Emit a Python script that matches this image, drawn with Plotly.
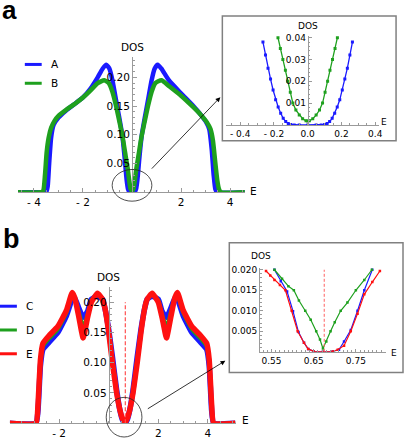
import plotly.graph_objects as go

W, H = 407, 439

BLUE = '#1a1aff'
GREEN = '#1ea01e'
RED = '#ff1010'
AXIS = '#9a9a9a'

# ---- panel a, main plot ----
A_E = [-4.65, -3.6, -3.5, -3.44, -3.38, -3.3, -3.2, -3.0, -2.7, -2.3, -2.0, -1.7, -1.4, -1.2, -1.05,
       -0.92, -0.8, -0.65, -0.5, -0.4, -0.3, -0.22, -0.16, -0.11, 0.0,
       0.11, 0.16, 0.22, 0.3, 0.4, 0.5, 0.65, 0.8, 0.92, 1.05, 1.2, 1.5, 2.0, 2.5, 2.8, 3.05, 3.15,
       3.25, 3.33, 3.4, 3.47, 4.6]
A_DOS = [0, 0, 0.0, 0.01, 0.05, 0.095, 0.117, 0.13, 0.142, 0.155, 0.165, 0.18, 0.2, 0.215, 0.222,
         0.215, 0.195, 0.16, 0.125, 0.10, 0.06, 0.022, 0.005, 0.001, 0.0,
         0.001, 0.005, 0.022, 0.06, 0.10, 0.125, 0.16, 0.195, 0.215, 0.222, 0.215, 0.195, 0.172, 0.15,
         0.135, 0.12, 0.11, 0.075, 0.03, 0.005, 0.0, 0.0]

B_E = [-4.65, -3.72, -3.62, -3.55, -3.48, -3.4, -3.3, -3.15, -3.0, -2.7, -2.3, -2.0, -1.7, -1.4, -1.13,
       -0.95, -0.8, -0.65, -0.5, -0.38, -0.26, -0.18, -0.12, -0.06, 0.0,
       0.06, 0.12, 0.18, 0.26, 0.38, 0.5, 0.65, 0.8, 0.95, 1.2, 1.5, 2.0, 2.5, 2.8, 3.05, 3.2, 3.3,
       3.4, 3.48, 3.55, 3.62, 4.6]
B_DOS = [0, 0, 0.003, 0.03, 0.07, 0.095, 0.112, 0.125, 0.133, 0.143, 0.155, 0.165, 0.177, 0.19, 0.195,
         0.19, 0.175, 0.15, 0.12, 0.095, 0.063, 0.042, 0.022, 0.006, 0.002,
         0.006, 0.022, 0.042, 0.063, 0.095, 0.12, 0.15, 0.175, 0.19, 0.195, 0.185, 0.168, 0.148, 0.135,
         0.122, 0.11, 0.09, 0.05, 0.02, 0.005, 0.0, 0.0]

# ---- panel a, inset ----
IA_E_A = [-0.265, -0.25, -0.235, -0.22, -0.205, -0.19, -0.175, -0.16, -0.145, -0.13, -0.115, -0.1,
          -0.08, -0.05, 0.0, 0.05, 0.08, 0.1, 0.115, 0.13, 0.145, 0.16, 0.175, 0.19, 0.205, 0.22,
          0.235, 0.25, 0.265]
IA_DOS_A = [0.038, 0.032, 0.026, 0.021, 0.016, 0.0115, 0.0082, 0.0053, 0.003, 0.0015, 0.0006, 0.0002,
            0.0, 0.0, 0.0, 0.0, 0.0, 0.0002, 0.0006, 0.0015, 0.003, 0.0053, 0.0082, 0.0115, 0.016,
            0.021, 0.026, 0.032, 0.038]
IA_E_B = [-0.176, -0.162, -0.147, -0.132, -0.118, -0.103, -0.088, -0.07, -0.05, -0.03, -0.01, 0.0,
          0.01, 0.03, 0.05, 0.07, 0.088, 0.103, 0.118, 0.132, 0.147, 0.162, 0.176]
IA_DOS_B = [0.04, 0.035, 0.03, 0.025, 0.02, 0.015, 0.01, 0.0068, 0.0045, 0.0028, 0.0019, 0.0018,
            0.0019, 0.0028, 0.0045, 0.0068, 0.01, 0.015, 0.02, 0.025, 0.03, 0.035, 0.04]

# ---- panel b, main plot ----
BM_E = [-4.0, -2.93, -2.85, -2.75, -2.65, -2.4, -2.05, -1.7, -1.47, -1.37, -1.2, -1.03, -0.85, -0.7,
        -0.45, -0.25, -0.15, 0.0, 0.15, 0.32, 0.45, 0.55, 0.65, 0.75, 0.85, 0.98, 1.15, 1.3, 1.45,
        1.55, 1.75, 2.0, 2.15, 2.33, 2.5, 2.67, 2.77, 3.0, 3.35, 3.7, 3.95, 4.05, 4.15, 4.23, 5.1]
C_DOS = [0, 0, 0.02, 0.095, 0.122, 0.134, 0.15, 0.178, 0.205, 0.207, 0.19, 0.175, 0.185, 0.205,
         0.21, 0.205, 0.19, 0.155, 0.11, 0.055, 0.022, 0.006, 0.0, 0.006, 0.022, 0.055, 0.11, 0.155,
         0.19, 0.205, 0.21, 0.205, 0.185, 0.175, 0.19, 0.207, 0.205, 0.178, 0.15, 0.134, 0.122,
         0.095, 0.02, 0, 0]
D_DOS = [0, 0, 0.025, 0.10, 0.127, 0.14, 0.155, 0.183, 0.211, 0.208, 0.183, 0.158, 0.18, 0.203,
         0.213, 0.205, 0.19, 0.152, 0.105, 0.052, 0.022, 0.007, 0.001, 0.007, 0.022, 0.052, 0.105,
         0.152, 0.19, 0.205, 0.213, 0.203, 0.18, 0.158, 0.183, 0.208, 0.211, 0.183, 0.155, 0.14,
         0.127, 0.10, 0.025, 0, 0]
E_DOS = [0, 0, 0.03, 0.105, 0.132, 0.145, 0.16, 0.187, 0.216, 0.208, 0.175, 0.141, 0.175, 0.20,
         0.215, 0.205, 0.19, 0.15, 0.10, 0.05, 0.022, 0.008, 0.0, 0.008, 0.022, 0.05, 0.10, 0.15,
         0.19, 0.205, 0.215, 0.20, 0.175, 0.141, 0.175, 0.208, 0.216, 0.187, 0.16, 0.145, 0.132,
         0.105, 0.03, 0, 0]
BM_MARK_E = [0.67, 0.67]
BM_MARK_DOS = [0.0, 0.2]

# ---- panel b, inset ----
IB_E_C = [0.557, 0.572, 0.587, 0.601, 0.614, 0.627, 0.637, 0.65, 0.672, 0.695, 0.71, 0.722, 0.738,
          0.754, 0.77, 0.789]
IB_DOS_C = [0.020, 0.0172, 0.0147, 0.0099, 0.0048, 0.0022, 0.0007, 0.0001, 0.0, 0.0001, 0.0005,
            0.0025, 0.0053, 0.010, 0.015, 0.020]
IB_E_D = [0.557, 0.575, 0.59, 0.603, 0.615, 0.63, 0.643, 0.656, 0.665, 0.672, 0.68, 0.69, 0.7, 0.714,
          0.73, 0.75, 0.77, 0.788]
IB_DOS_D = [0.020, 0.0178, 0.016, 0.015, 0.0125, 0.010, 0.0078, 0.005, 0.003, 0.0008, 0.0025, 0.005,
            0.0072, 0.010, 0.012, 0.015, 0.0175, 0.020]
IB_E_E = [0.537, 0.547, 0.557, 0.57, 0.583, 0.598, 0.612, 0.627, 0.637, 0.65, 0.672, 0.695, 0.707,
          0.722, 0.738, 0.754, 0.77, 0.789, 0.807]
IB_DOS_E = [0.0197, 0.0186, 0.0175, 0.0163, 0.015, 0.010, 0.005, 0.0022, 0.0007, 0.0001, 0.0, 0.0001,
            0.0005, 0.0015, 0.005, 0.0093, 0.014, 0.017, 0.0197]
IB_MARK_E = [0.675, 0.675]
IB_MARK_DOS = [0.0, 0.02]


def px(x):
    return x / W


def py(y):
    return 1 - y / H


fig = go.Figure()

# panel a main
fig.add_trace(go.Scatter(x=A_E, y=A_DOS, name='A', mode='lines',
                         line=dict(color=BLUE, width=4.5, shape='spline', smoothing=0.5),
                         xaxis='x', yaxis='y'))
fig.add_trace(go.Scatter(x=B_E, y=B_DOS, name='B', mode='lines',
                         line=dict(color=GREEN, width=4.5, shape='spline', smoothing=0.5),
                         xaxis='x', yaxis='y'))
# panel a inset
fig.add_trace(go.Scatter(x=IA_E_A, y=IA_DOS_A, mode='lines+markers',
                         line=dict(color=BLUE, width=1.3), marker=dict(size=3, symbol='square'),
                         xaxis='x2', yaxis='y2'))
fig.add_trace(go.Scatter(x=IA_E_B, y=IA_DOS_B, mode='lines+markers',
                         line=dict(color=GREEN, width=1.3), marker=dict(size=3, symbol='square'),
                         xaxis='x2', yaxis='y2'))
# panel b main
for name, dos, color, width in [('C', C_DOS, BLUE, 5.5), ('D', D_DOS, GREEN, 4), ('E', E_DOS, RED, 5.5)]:
    fig.add_trace(go.Scatter(x=BM_E, y=dos, name=name, mode='lines',
                             line=dict(color=color, width=width, shape='spline', smoothing=0.4),
                             xaxis='x3', yaxis='y3'))
fig.add_trace(go.Scatter(x=BM_MARK_E, y=BM_MARK_DOS, mode='lines',
                         line=dict(color='#ff5050', width=1.2, dash='4px,2px'), xaxis='x3', yaxis='y3'))
# panel b inset
for e, dos, color in [(IB_E_C, IB_DOS_C, BLUE), (IB_E_D, IB_DOS_D, GREEN), (IB_E_E, IB_DOS_E, RED)]:
    fig.add_trace(go.Scatter(x=e, y=dos, mode='lines+markers',
                             line=dict(color=color, width=1.2), marker=dict(size=2.5, symbol='square'),
                             xaxis='x4', yaxis='y4'))
fig.add_trace(go.Scatter(x=IB_MARK_E, y=IB_MARK_DOS, mode='lines',
                         line=dict(color='#ff6060', width=1, dash='3px,2px'), xaxis='x4', yaxis='y4'))

main_font = dict(family='DejaVu Sans', size=10.5, color='black')
inset_font = dict(family='DejaVu Sans', size=9, color='black')


def axis(font, ticklen, **kw):
    return dict(showline=True, linecolor=AXIS, linewidth=1, ticks='inside', tickcolor=AXIS,
                ticklen=ticklen, showgrid=False, zeroline=False, tickfont=font, **kw)


fig.update_layout(
    width=W, height=H, margin=dict(l=0, r=0, t=0, b=0),
    paper_bgcolor='white', plot_bgcolor='rgba(0,0,0,0)',
    font=main_font, showlegend=False,
    xaxis=axis(main_font, 4, domain=[px(18), px(247)], range=[-4.656, 4.615], anchor='y',
               tickvals=[-4, -2, 2, 4], ticktext=['- 4', '- 2', '2', '4'],
               minor=dict(ticks='inside', ticklen=2, dtick=0.5, tick0=0, tickcolor=AXIS)),
    yaxis=axis(main_font, 4, domain=[py(191), py(55)], range=[0, 0.2345], anchor='free',
               position=px(133), tickvals=[0.05, 0.10, 0.15, 0.20],
               ticktext=['0.05', '0.10', '0.15', '0.20'],
               minor=dict(ticks='inside', ticklen=2, dtick=0.01, tick0=0, tickcolor=AXIS)),
    xaxis2=axis(inset_font, 3, domain=[px(228), px(382)], range=[-0.482, 0.4235], anchor='y2',
                tickvals=[-0.4, -0.2, 0.0, 0.2, 0.4], ticktext=['- 0.4', '- 0.2', '0.0', '0.2', '0.4'],
                minor=dict(ticks='inside', ticklen=1.5, dtick=0.05, tick0=0, tickcolor=AXIS)),
    yaxis2=axis(inset_font, 3, domain=[py(123), py(33)], range=[0, 0.0409], anchor='free',
                position=px(310), tickvals=[0.01, 0.02, 0.03, 0.04],
                ticktext=['0.01', '0.02', '0.03', '0.04'],
                minor=dict(ticks='inside', ticklen=1.5, dtick=0.002, tick0=0, tickcolor=AXIS)),
    xaxis3=axis(main_font, 4, domain=[px(10), px(238)], range=[-3.98, 5.14], anchor='y3',
                tickvals=[-2, 2, 4], ticktext=['- 2', '2', '4'],
                minor=dict(ticks='inside', ticklen=2, dtick=0.5, tick0=0, tickcolor=AXIS)),
    yaxis3=axis(main_font, 4, domain=[py(424), py(287)], range=[0, 0.2246], anchor='free',
                position=px(109.5), tickvals=[0.05, 0.10, 0.15, 0.20],
                ticktext=['0.05', '0.10', '0.15', '0.20'],
                minor=dict(ticks='inside', ticklen=2, dtick=0.01, tick0=0, tickcolor=AXIS)),
    xaxis4=axis(inset_font, 3, domain=[px(262), px(389)], range=[0.5229, 0.8218], anchor='y4',
                tickvals=[0.55, 0.65, 0.75], ticktext=['0.55', '0.65', '0.75'],
                minor=dict(ticks='inside', ticklen=1.5, dtick=0.01, tick0=0, tickcolor=AXIS)),
    yaxis4=axis(inset_font, 3, domain=[py(352), py(267)], range=[0, 0.02053], anchor='x4',
                tickvals=[0.005, 0.010, 0.015, 0.020],
                ticktext=['0.005', '0.010', '0.015', '0.020'],
                minor=dict(ticks='inside', ticklen=1.5, dtick=0.001, tick0=0, tickcolor=AXIS)),
)

shapes = [
    dict(type='rect', xref='paper', yref='paper', x0=px(224), x1=px(399), y0=py(139), y1=py(13),
         line=dict(color='#808080', width=1.5), fillcolor='white', layer='below'),
    dict(type='rect', xref='paper', yref='paper', x0=px(231), x1=px(406), y0=py(373), y1=py(242),
         line=dict(color='#808080', width=1.5), fillcolor='white', layer='below'),
    dict(type='circle', xref='paper', yref='paper', x0=px(113), x1=px(153), y0=py(200), y1=py(168),
         line=dict(color='#222', width=0.8)),
    dict(type='circle', xref='paper', yref='paper', x0=px(107), x1=px(143), y0=py(438), y1=py(398),
         line=dict(color='#222', width=0.8)),
]

# legends: short line sample + label, as in the original
legend_items = [('A', BLUE, 25, 62), ('B', GREEN, 25, 81),
                ('C', BLUE, 0, 306), ('D', GREEN, 0, 330), ('E', RED, 0, 354)]
for name, color, x0, y0 in legend_items:
    shapes.append(dict(type='line', xref='paper', yref='paper', x0=px(x0), x1=px(x0 + 17),
                       y0=py(y0), y1=py(y0), line=dict(color=color, width=3)))
    fig.add_annotation(text=name, x=px(x0 + 24), y=py(y0), xref='paper', yref='paper',
                       xanchor='left', yanchor='middle', showarrow=False, font=main_font)
fig.update_layout(shapes=shapes)


def label(text, x, y, font):
    fig.add_annotation(text=text, x=px(x), y=py(y), xref='paper', yref='paper', showarrow=False,
                       xanchor='center', yanchor='middle', font=font)


label('DOS', 133, 44, main_font)
label('E', 255, 190, main_font)
label('DOS', 310, 23, inset_font)
label('E', 387, 120, inset_font)
label('DOS', 109, 277, main_font)
label('E', 247, 421, main_font)
label('DOS', 263, 255, inset_font)
label('E', 397, 353, inset_font)
label('<b>a</b>', 10, 7, dict(family='Liberation Sans', size=26, color='black'))
label('<b>b</b>', 12, 238, dict(family='Liberation Sans', size=27, color='black'))

# zoom arrows
fig.add_annotation(x=px(222), y=py(95), xref='paper', yref='paper', ax=-70, ay=73, text='',
                   showarrow=True, arrowhead=2, arrowsize=1.2, arrowwidth=0.8, arrowcolor='black')
fig.add_annotation(x=px(227), y=py(361), xref='paper', yref='paper', ax=-79, ay=49, text='',
                   showarrow=True, arrowhead=2, arrowsize=1.2, arrowwidth=0.8, arrowcolor='black')

fig.write_html("out.html", config={'displayModeBar': False},
               post_script="document.body.style.margin='0px';")
